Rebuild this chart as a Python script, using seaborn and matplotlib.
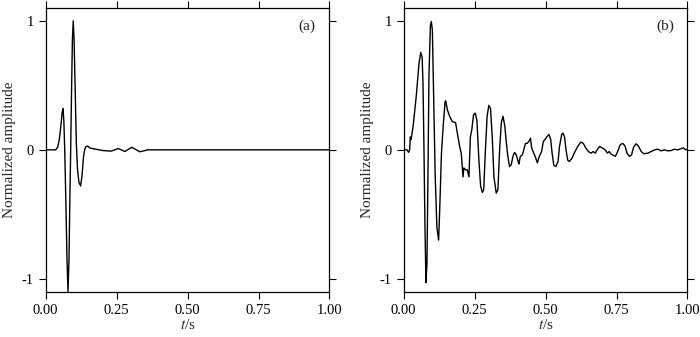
"""Normalized waveforms: (a) source wavelet, (b) recorded trace."""

import numpy as np
import pandas as pd
import matplotlib
matplotlib.use("Agg")
import matplotlib.pyplot as plt
import seaborn as sns

# (a) source wavelet
T_A = [0.0, 0.035, 0.042, 0.048, 0.054, 0.058, 0.061, 0.064, 0.067, 0.071,
       0.075, 0.0785, 0.082, 0.085, 0.088, 0.091, 0.094, 0.097, 0.100, 0.104,
       0.108, 0.112, 0.117, 0.123, 0.128, 0.133, 0.137, 0.142, 0.148, 0.155,
       0.165, 0.20, 0.23, 0.256, 0.279, 0.303, 0.332, 0.36, 1.0]
V_A = [0.0, 0.0, 0.02, 0.08, 0.2, 0.29, 0.32, 0.22, 0.0, -0.4,
       -0.85, -1.1, -0.85, -0.4, 0.0, 0.45, 0.85, 1.0, 0.85, 0.45,
       0.05, -0.15, -0.25, -0.28, -0.2, -0.06, 0.0, 0.025, 0.03, 0.015,
       0.01, -0.005, -0.01, 0.01, -0.013, 0.02, -0.015, 0.0, 0.0]

# (b) recorded trace
T_B = [0.0, 0.012, 0.017, 0.021, 0.0233, 0.026, 0.033, 0.044, 0.054, 0.060,
       0.065, 0.068, 0.0715, 0.075, 0.0785, 0.082, 0.0855, 0.089, 0.094, 0.0973,
       0.101, 0.1055, 0.111, 0.117, 0.123, 0.127, 0.133, 0.139, 0.146, 0.148,
       0.154, 0.162, 0.171, 0.183, 0.189, 0.197, 0.203, 0.209, 0.212, 0.218,
       0.224, 0.230, 0.235, 0.240, 0.246, 0.252, 0.258, 0.265, 0.271, 0.277,
       0.282, 0.288, 0.294, 0.300, 0.306, 0.312, 0.318, 0.326, 0.332, 0.338,
       0.344, 0.350, 0.356, 0.362, 0.367, 0.373, 0.379, 0.385, 0.391, 0.397,
       0.403, 0.406, 0.411, 0.418, 0.422, 0.429, 0.435, 0.441, 0.447, 0.451,
       0.463, 0.471, 0.478, 0.486, 0.492, 0.498, 0.504, 0.512, 0.518, 0.523,
       0.529, 0.536, 0.544, 0.549, 0.557, 0.561, 0.567, 0.572, 0.578, 0.584,
       0.593, 0.601, 0.613, 0.624, 0.633, 0.642, 0.651, 0.660, 0.668, 0.675,
       0.683, 0.691, 0.701, 0.710, 0.718, 0.724, 0.730, 0.736, 0.746, 0.754,
       0.763, 0.772, 0.780, 0.787, 0.795, 0.803, 0.810, 0.819, 0.827, 0.837,
       0.846, 0.860, 0.872, 0.884, 0.896, 0.907, 0.919, 0.931, 0.943, 0.954,
       0.966, 0.978, 0.986, 0.993, 1.0]
V_B = [0.0, 0.0, -0.02, 0.0, 0.1, 0.08, 0.18, 0.41, 0.67, 0.755,
       0.72, 0.52, 0.0, -0.6, -1.03, -0.88, -0.2, 0.57, 0.96, 0.995,
       0.93, 0.44, -0.2, -0.6, -0.70, -0.46, -0.03, 0.18, 0.375, 0.38,
       0.31, 0.26, 0.22, 0.21, 0.13, 0.03, -0.03, -0.21, -0.14, -0.155,
       -0.155, -0.21, 0.1, 0.155, 0.27, 0.285, 0.23, -0.08, -0.28, -0.33,
       -0.31, 0.0, 0.26, 0.345, 0.32, 0.1, -0.21, -0.335, -0.31, 0.0,
       0.21, 0.26, 0.19, 0.05, -0.05, -0.13, -0.115, -0.05, -0.02, -0.04,
       -0.09, -0.11, -0.05, -0.04, -0.01, 0.05, 0.05, 0.065, 0.09, 0.013,
       -0.05, -0.1, -0.05, -0.013, 0.065, 0.08, 0.1, 0.12, 0.08, -0.025,
       -0.12, -0.13, -0.09, 0.026, 0.12, 0.13, 0.1, 0.0, -0.08, -0.09,
       -0.065, -0.026, 0.026, 0.06, 0.05, 0.013, -0.013, -0.026, -0.013, -0.026,
       0.005, 0.026, 0.013, 0.0, -0.026, -0.013, -0.03, -0.04, -0.05, -0.013,
       0.04, 0.05, 0.03, -0.026, -0.05, -0.04, 0.02, 0.047, 0.03, -0.013,
       -0.03, -0.026, -0.013, 0.0, 0.005, -0.008, 0.0, -0.008, -0.005, 0.005,
       0.0, 0.01, 0.015, 0.0, 0.005]

X_TICKS = [0.0, 0.25, 0.5, 0.75, 1.0]
X_LABELS = ["0.00", "0.25", "0.50", "0.75", "1.00"]
Y_TICKS = [-1, 0, 1]
Y_LABELS = ["-1", "0", "1"]
PANELS = ["(a)", "(b)"]

sns.set_style("ticks")
plt.rcParams["font.family"] = ["Liberation Serif", "DejaVu Serif"]
plt.rcParams["mathtext.fontset"] = "stix"
plt.rcParams["axes.unicode_minus"] = False

fig = plt.figure(figsize=(7.0, 3.37), dpi=100)
ax_a = fig.add_axes([0.0653, 0.1344, 0.4054, 0.8419])
ax_b = fig.add_axes([0.5767, 0.1344, 0.4054, 0.8419])

for ax, t, v, lab in [(ax_a, T_A, V_A, PANELS[0]), (ax_b, T_B, V_B, PANELS[1])]:
    df = pd.DataFrame({"t": t, "v": v})
    sns.lineplot(data=df, x="t", y="v", ax=ax, color="black", lw=1.0,
                 estimator=None, sort=False)
    ax.set_xlim(0, 1)
    ax.set_ylim(-1.1, 1.1)
    ax.set_xticks(X_TICKS, X_LABELS)
    ax.set_yticks(Y_TICKS, Y_LABELS)
    ax.tick_params(direction="out", length=5, width=0.8, labelsize=10.5,
                   top=True, right=True, labeltop=False, labelright=False,
                   color="black", labelcolor="black")
    for sp in ax.spines.values():
        sp.set_visible(True)
        sp.set_linewidth(0.9)
        sp.set_color("black")
    ax.set_xlabel("$t$/s", fontsize=11, labelpad=1)
    ax.set_ylabel("Normalized amplitude", fontsize=11, labelpad=4)
    ax.text(0.952, 0.937, lab, transform=ax.transAxes, ha="right", va="center",
            fontsize=11)

fig.savefig("out.png", dpi=100)
plt.close(fig)
